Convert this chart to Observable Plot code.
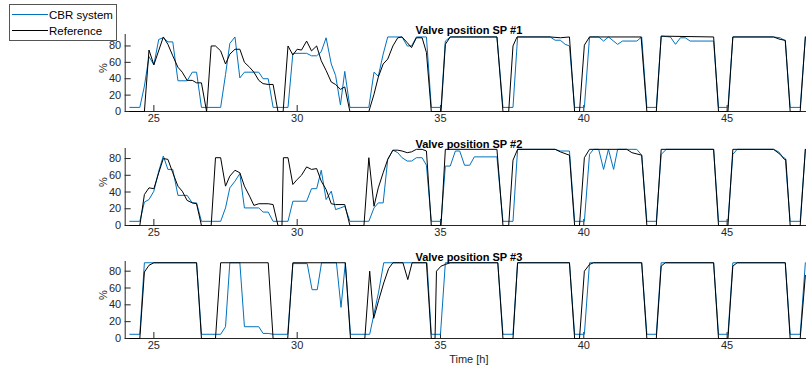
<!DOCTYPE html>
<html><head><meta charset="utf-8">
<script src="https://cdn.jsdelivr.net/npm/d3@7"></script>
<script src="https://cdn.jsdelivr.net/npm/@observablehq/plot@0.6"></script>
<style>
body{margin:0;background:#fff;}
#wrap{position:relative;width:806px;height:372px;overflow:hidden;font-family:"Liberation Sans",Arial,sans-serif;}
#wrap svg.plot{position:absolute;left:0;}
#legend{position:absolute;left:9px;top:4px;width:106px;height:35px;border:1px solid #555;background:#fff;}
</style></head>
<body><div id="wrap"></div>
<script>
// ---- data (time [h], valve position [%]) ----
const titles = ["Valve position SP #1", "Valve position SP #2", "Valve position SP #3"];
const seriesNames = ["CBR system", "Reference"];
const xTicks = [25, 30, 35, 40, 45];
const yTicks = [0, 20, 40, 60, 80];

const sp1_cbr = [[24.16,5],[24.51,5],[24.67,31],[24.83,67],[25.0,57],[25.17,88],[25.33,90],[25.49,85],[25.66,85],[25.84,37.5],[26.16,37.5],[26.34,48],[26.49,48],[26.66,5],[27.33,5],[27.5,45],[27.65,83],[27.83,91],[28.0,41],[28.16,48],[28.66,48],[28.81,40],[28.99,40],[29.16,5],[29.68,5],[29.85,71],[30.33,71],[30.5,68],[30.68,68],[30.84,73],[31.01,90],[31.19,58],[31.34,44],[31.51,8],[31.66,49],[31.84,5],[32.5,5],[32.68,48],[32.83,43],[33.0,70],[33.16,91],[33.66,91],[33.84,80],[33.99,80],[34.16,91],[34.51,91],[34.68,5],[35.02,5],[35.17,86],[35.34,91],[36.97,91],[37.18,5],[37.53,5],[37.69,91],[38.83,91],[39.0,87],[39.18,87],[39.35,82],[39.5,80],[39.68,5],[40.02,5],[40.2,91],[40.52,91],[40.69,86],[40.86,91],[41.18,82],[41.35,86],[41.85,86],[42.02,91],[42.2,5],[42.53,5],[42.7,92],[43.02,91],[43.2,82],[43.37,90],[43.54,90],[43.71,86],[44.53,86],[44.7,5],[45.03,5],[45.2,91],[46.62,91],[46.85,90],[47.03,86],[47.2,5],[47.55,5],[47.73,91]];

const sp1_ref = [[24.16,0],[24.67,0],[24.83,75],[25.0,57],[25.33,91],[25.49,82],[25.66,68],[25.84,54],[25.99,48],[26.16,38],[26.34,38],[26.49,35],[26.66,35],[26.84,0],[27.0,80],[27.15,80],[27.33,74],[27.5,58],[27.65,70],[27.83,76],[28.0,76],[28.16,60],[28.34,54],[28.49,48],[28.66,38],[28.81,34],[28.99,33],[29.16,33],[29.33,0],[29.51,0],[29.68,80],[29.85,69],[30.0,76],[30.15,75],[30.33,86],[30.5,74],[30.68,80],[30.84,62],[31.01,50],[31.19,36],[31.34,33],[31.51,27],[31.66,30],[31.84,0],[32.5,0],[32.68,21],[32.83,42],[33.0,58],[33.16,64],[33.34,80],[33.51,90],[33.66,91],[33.84,84],[33.99,78],[34.16,90],[34.36,90],[34.51,72],[34.68,0],[35.02,0],[35.17,82],[35.34,91],[36.97,91],[37.18,0],[37.38,0],[37.53,80],[37.67,91],[38.83,91],[39.18,90],[39.5,91],[39.68,0],[39.85,0],[40.02,81],[40.2,91],[42.0,91],[42.2,0],[42.53,0],[42.7,92],[44.53,91],[44.7,0],[45.03,0],[45.2,91],[46.62,91],[46.85,88],[47.03,87],[47.2,0],[47.55,0],[47.73,91]];

const sp2_cbr = [[24.16,5],[24.51,5],[24.67,28],[24.83,31],[25.0,41],[25.17,65],[25.33,83],[25.49,67],[25.66,67],[25.84,36],[26.16,36],[26.34,27],[26.49,27],[26.66,5],[27.33,5],[27.5,21],[27.65,45],[27.83,53],[28.0,62],[28.16,21],[28.66,21],[28.81,16],[28.99,16],[29.16,5],[29.68,5],[29.85,29],[30.33,29],[30.5,44],[30.68,44],[30.84,66],[31.01,31],[31.19,41],[31.34,19],[31.51,21],[31.66,23],[31.84,5],[32.5,5],[32.68,21],[32.83,27],[33.0,27],[33.16,79],[33.34,90],[33.51,87],[33.66,81],[33.84,77],[33.99,77],[34.16,81],[34.36,81],[34.51,72],[34.68,5],[35.02,5],[35.17,71],[35.34,71],[35.52,89],[35.67,89],[35.84,72],[36.02,72],[36.18,82],[36.97,82],[37.18,5],[37.53,5],[37.69,91],[39.0,91],[39.18,89],[39.5,89],[39.68,5],[40.02,5],[40.2,85],[40.34,91],[40.52,91],[40.69,67],[40.86,91],[41.04,67],[41.18,91],[41.85,91],[42.02,84],[42.2,5],[42.53,5],[42.7,85],[42.88,91],[44.53,91],[44.7,5],[45.03,5],[45.2,85],[45.35,91],[46.62,91],[46.8,88],[46.94,82],[47.03,80],[47.2,5],[47.55,5],[47.73,91]];

const sp2_ref = [[24.16,0],[24.51,0],[24.67,37],[24.83,45],[25.0,44],[25.17,63],[25.33,80],[25.49,79],[25.66,63],[25.84,47],[25.99,41],[26.16,30],[26.34,27],[26.49,26],[26.66,0],[27.0,0],[27.15,81],[27.33,81],[27.5,47],[27.65,59],[27.83,66],[28.0,63],[28.16,47],[28.34,35],[28.49,24],[28.66,26],[28.99,26],[29.16,25],[29.33,0],[29.47,0],[29.52,81],[29.68,81],[29.85,49],[30.0,55],[30.15,60],[30.33,70],[30.5,67],[30.68,68],[30.84,53],[31.01,43],[31.19,26],[31.34,25],[31.66,25],[31.84,0],[32.33,0],[32.5,81],[32.68,23],[32.83,45],[33.0,63],[33.16,79],[33.34,90],[33.51,90],[33.66,89],[33.84,87],[33.99,88],[34.16,91],[34.36,91],[34.51,89],[34.68,0],[35.02,0],[35.17,91],[36.97,91],[37.18,0],[37.38,0],[37.53,78],[37.69,91],[39.0,91],[39.18,88],[39.5,84],[39.68,0],[39.85,0],[40.02,81],[40.2,91],[41.5,91],[41.68,87],[42.02,84],[42.2,0],[42.53,0],[42.7,91],[44.53,91],[44.7,0],[45.03,0],[45.2,91],[46.62,91],[46.85,85],[47.0,79],[47.05,79],[47.2,0],[47.55,0],[47.73,91]];

const sp3_cbr = [[24.16,5],[24.51,5],[24.67,90],[26.49,90],[26.66,5],[27.33,5],[27.5,14],[27.65,90],[28.0,90],[28.16,14],[28.66,14],[28.81,6],[28.99,6],[29.16,5],[29.67,5],[29.85,89],[30.35,89],[30.52,58],[30.7,58],[30.85,90],[31.37,90],[31.53,37],[31.68,90],[31.86,5],[32.53,5],[32.84,55],[33.02,90],[34.53,90],[34.68,5],[35.0,5],[35.17,90],[37.0,90],[37.18,5],[37.53,5],[37.69,90],[39.5,90],[39.68,5],[40.02,5],[40.2,90],[42.02,90],[42.2,5],[42.53,5],[42.7,90],[44.53,90],[44.7,5],[45.03,5],[45.2,90],[47.03,90],[47.2,5],[47.55,5],[47.73,90]];

const sp3_ref = [[24.16,0],[24.51,0],[24.67,79],[24.83,87],[25.0,90],[26.49,90],[26.66,0],[27.15,0],[27.33,90],[28.99,90],[29.16,0],[29.67,0],[29.85,90],[31.68,90],[31.86,0],[32.36,0],[32.53,80],[32.67,24],[32.84,45],[33.02,66],[33.19,83],[33.34,90],[33.69,90],[33.86,70],[34.01,90],[34.51,90],[34.68,0],[34.81,0],[34.86,80],[35.02,86],[35.17,88],[35.34,90],[37.0,90],[37.18,0],[37.53,0],[37.69,90],[39.5,90],[39.68,0],[39.85,0],[40.02,80],[40.2,88],[40.34,90],[42.02,90],[42.2,0],[42.53,0],[42.7,86],[42.84,90],[44.53,90],[44.7,0],[45.03,0],[45.2,86],[45.35,90],[47.03,90],[47.2,0],[47.55,0],[47.73,75]];

const yMaxes = [94, 92, 91.5];
const colors = ["#0072BD", "#000000"];

// ---- drawing ----
const xDomain = [24, 47.77];
const ML = 124.7, MT = 34, INNER = 77, W = 806;
const axisColor = "#262626";
const font = "'Liberation Sans', Arial, Helvetica, sans-serif";

function panel(title, cbr, ref, yMax, last) {
  const C = cbr.map(([t, v]) => ({t, v}));
  const R = ref.map(([t, v]) => ({t, v}));
  const hPerPx = (xDomain[1] - xDomain[0]) / (W - ML);
  const vPerPx = yMax / INNER;
  const mb = last ? 34 : 16;
  const marks = [
    Plot.axisX(xTicks, {tickSize: 0, tickPadding: 3, label: null, fill: axisColor}),
    Plot.axisY(yTicks, {tickSize: 0, tickPadding: 4, label: null, fill: axisColor}),
    Plot.ruleX(xTicks, {x: d => d, y1: 0, y2: 6 * vPerPx, stroke: axisColor}),
    Plot.ruleY(yTicks, {y: d => d, x1: xDomain[0], x2: xDomain[0] + 6 * hPerPx, stroke: axisColor}),
    Plot.ruleX([xDomain[0]], {stroke: axisColor}),
    Plot.ruleY([0], {stroke: axisColor}),
    Plot.line(C, {x: "t", y: "v", stroke: colors[0], strokeWidth: 1}),
    Plot.line(R, {x: "t", y: "v", stroke: colors[1], strokeWidth: 1}),
    Plot.text([title], {frameAnchor: "top", dy: -8.5, dx: 3, fontWeight: "bold", fontSize: 11, fill: "#000"}),
    Plot.text(["%"], {frameAnchor: "left", dx: -22, rotate: -90, fontSize: 11, fill: axisColor})
  ];
  if (last) marks.push(Plot.text(["Time [h]"], {frameAnchor: "bottom", dy: 24, dx: 3, fontSize: 11, fill: axisColor}));
  const svg = Plot.plot({
    width: W, height: MT + INNER + mb,
    marginLeft: ML, marginRight: 0, marginTop: MT, marginBottom: mb,
    style: {fontFamily: font, fontSize: "11px", color: axisColor, background: "transparent", overflow: "visible"},
    x: {domain: xDomain, label: null},
    y: {domain: [0, yMax], label: null},
    marks
  });
  svg.classList.add("plot");
  return svg;
}

const wrap = document.getElementById("wrap");
const tops = [0, 114, 227];
const data = [[sp1_cbr, sp1_ref], [sp2_cbr, sp2_ref], [sp3_cbr, sp3_ref]];
data.forEach(([c, r], i) => {
  const s = panel(titles[i], c, r, yMaxes[i], i === 2);
  s.style.top = tops[i] + "px";
  wrap.appendChild(s);
});

// legend
const lg = document.createElement("div");
lg.id = "legend";
const ns = "http://www.w3.org/2000/svg";
const ls = document.createElementNS(ns, "svg");
ls.setAttribute("width", 106); ls.setAttribute("height", 35);
ls.style.fontFamily = font;
seriesNames.forEach((name, i) => {
  const y = 9.5 + i * 16;
  const ln = document.createElementNS(ns, "line");
  ln.setAttribute("x1", 2); ln.setAttribute("x2", 38);
  ln.setAttribute("y1", y); ln.setAttribute("y2", y);
  ln.setAttribute("stroke", colors[i]); ln.setAttribute("stroke-width", 1);
  ls.appendChild(ln);
  const tx = document.createElementNS(ns, "text");
  tx.setAttribute("x", 39); tx.setAttribute("y", y + 4);
  tx.setAttribute("font-size", "11.5px"); tx.setAttribute("fill", "#000");
  tx.textContent = name;
  ls.appendChild(tx);
});
lg.appendChild(ls);
wrap.appendChild(lg);
</script>
</body></html>
